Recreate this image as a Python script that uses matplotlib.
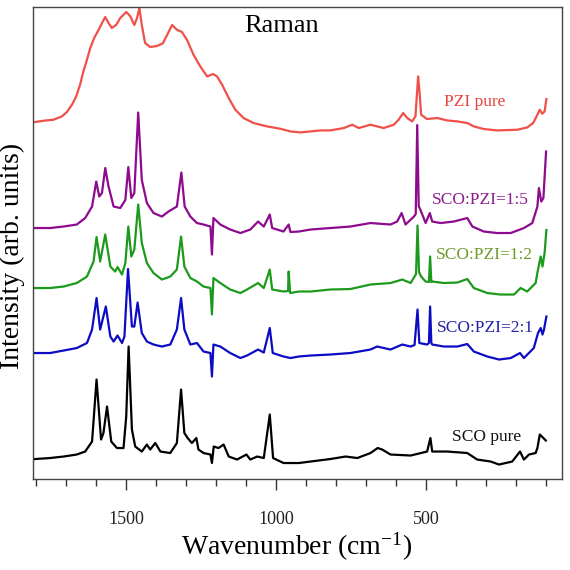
import numpy as np
import matplotlib
matplotlib.use('Agg')
import matplotlib.pyplot as plt
from matplotlib.ticker import MultipleLocator

plt.rcParams['font.family'] = ['Liberation Serif', 'DejaVu Serif']
plt.rcParams['mathtext.fontset'] = 'custom'
plt.rcParams['mathtext.rm'] = 'Liberation Serif'
plt.rcParams['mathtext.it'] = 'Liberation Serif:italic'

# spectra: [wavenumber (cm-1), intensity above own baseline]
pzi_pure = np.array([
    [1804, 0], [1776, 1.3], [1743, 2.3], [1715, 5.6], [1698, 10], [1681, 17.3], [1667, 25.6],
    [1654, 37.3], [1643, 50.6], [1631, 62.3], [1620, 74], [1607, 84], [1592, 92.3], [1578, 100.6],
    [1570, 105], [1559, 99], [1548, 94], [1533, 97.3], [1520, 104], [1500, 110], [1487, 106],
    [1473, 97], [1464, 104], [1456, 114], [1448, 97], [1437, 79], [1420, 75], [1398, 76], [1378, 78.6],
    [1362, 88], [1347, 97], [1331, 92.3], [1314, 90], [1297, 82], [1275, 67], [1253, 55.6],
    [1230, 45.6], [1210, 48], [1197, 45.6], [1180, 37.3], [1158, 24], [1136, 12.3], [1108, 3.9],
    [1075, -1], [1030, -4.4], [986, -6.7], [952, -9.4], [919, -10.4], [885, -9.4], [852, -8.4],
    [819, -8.4], [774, -6], [746, -2.7], [724, -6], [685, -2.7], [641, -6], [607, -2.7], [591, 2.3],
    [576, 9], [562, 4], [546, 0.6], [535, 5.6], [529, 32], [526, 45.6], [521, 29], [516, 7.3],
    [496, 3], [462, 4], [429, 1.6], [395, 0.6], [362, -1], [340, -4.4], [307, -7], [262, -8.4],
    [195, -7.7], [162, -5.4], [142, -1], [128, 7.3], [120, 12.3], [112, 8.3], [104, 10.6], [98, 23]])

sco_pzi_15 = np.array([
    [1804, 0], [1754, 0], [1709, 1.5], [1665, 3.5], [1637, 10], [1614, 21.5], [1600, 46.5], [1590, 31.5],
    [1581, 35], [1570, 60], [1559, 41.5], [1542, 21.5], [1520, 20], [1503, 28], [1493, 61], [1483, 30],
    [1473, 35], [1460, 115.5], [1448, 48], [1431, 25], [1409, 15], [1381, 11.5], [1359, 16.5],
    [1331, 21.5], [1316, 55.5], [1305, 21.5], [1286, 11.5], [1264, 5], [1242, 3.5], [1219, 1.5],
    [1214, -26.5], [1209, 10], [1186, 3.5], [1153, -1.5], [1119, -5], [1086, -1.5], [1060, 6.5],
    [1041, 1.5], [1021, 13.5], [1013, 0], [975, -3.5], [958, 3.5], [952, -4], [924, -3.5], [885, -1.5],
    [819, 0], [752, 1.5], [685, 5], [618, 3.5], [596, 6.5], [581, 15], [568, 3.5], [540, 11.5],
    [534, 14], [529, 103], [524, 22], [518, 18], [501, 5], [487, 15], [479, 6.5], [451, 5], [407, 6.5],
    [362, 10], [345, 1.5], [307, -3.5], [262, -5], [217, -5], [173, 0], [145, 5], [128, 21.5],
    [123, 40], [115, 26.5], [108, 30], [99, 76.5]])

sco_pzi_12 = np.array([
    [1804, 0], [1754, 0], [1709, 1.5], [1665, 5], [1631, 11.5], [1609, 26.5], [1599, 51], [1587, 26.5],
    [1570, 53.5], [1553, 21.5], [1537, 16.5], [1529, 21], [1514, 13.5], [1503, 25], [1493, 61.5],
    [1483, 31.5], [1473, 38.5], [1460, 83.5], [1448, 45], [1431, 25], [1409, 15], [1381, 8.5],
    [1353, 11.5], [1331, 18.5], [1317, 51.5], [1306, 21.5], [1286, 10], [1264, 6.5], [1242, 1.5],
    [1219, 0], [1214, -26.5], [1209, 10], [1186, 5], [1153, -1.5], [1119, -5], [1097, -1.5], [1060, 5],
    [1041, 0], [1021, 18.5], [1013, -1.5], [975, -3.5], [960, -3], [958, 16.5], [953, -5], [924, -3.5],
    [885, -3.5], [819, -1.5], [752, -1], [685, 3.5], [618, 5], [579, 8.5], [551, 5], [538, 11.5],
    [533, 14], [528, 62.5], [523, 16], [516, 11.5], [501, 6.5], [490, 6], [486, 31.5], [482, 6],
    [479, 6.5], [440, 5], [395, 5.5], [362, 9], [340, 0], [295, -5], [251, -6.5], [206, -6.5],
    [184, 0], [162, -3.5], [134, 5], [126, 18.5], [117, 31.5], [111, 21.5], [104, 35], [98, 58]])

sco_pzi_21 = np.array([
    [1804, 0], [1754, 0], [1709, 2.5], [1665, 5], [1631, 10], [1614, 23.5], [1599, 55], [1587, 23.5],
    [1568, 46.5], [1553, 16.5], [1542, 11.5], [1529, 17.5], [1514, 10], [1506, 16.5], [1494, 84],
    [1481, 26.5], [1473, 26.5], [1462, 50.5], [1448, 20], [1431, 11.5], [1409, 8.5], [1381, 6.5],
    [1353, 8.5], [1331, 23.5], [1317, 55], [1306, 23.5], [1286, 8.5], [1264, 10], [1242, 1.5],
    [1219, 0], [1214, -23.5], [1209, 8.5], [1186, 6.5], [1153, 0], [1119, -5], [1097, -2.5],
    [1060, 3.5], [1041, 0.5], [1021, 25], [1011, 0], [975, -3.5], [952, -5], [924, -3.5], [885, -2.5],
    [819, -1.5], [752, 0], [685, 3.5], [663, 6.5], [618, 3.5], [579, 8.5], [551, 6.5], [538, 8],
    [528, 43.5], [522, 10], [496, 8.5], [490, 10], [486, 46.5], [482, 10], [479, 8.5], [440, 6.5],
    [395, 6.5], [362, 9], [340, 1.5], [295, -3.5], [256, -6.5], [217, -5], [186, 0], [173, -5],
    [140, 5], [126, 20], [117, 25], [111, 18.5], [106, 23.5], [98, 36.5]])

sco_pure = np.array([
    [1804, 0], [1754, 1], [1709, 2.5], [1665, 4.5], [1637, 7.5], [1614, 17.5], [1599, 79.5], [1584, 19.5],
    [1576, 26], [1564, 52.5], [1550, 17.5], [1531, 11], [1509, 11], [1500, 42.5], [1492, 112.5],
    [1481, 29.5], [1470, 12.5], [1448, 7.5], [1431, 14.5], [1420, 9.5], [1403, 16], [1386, 7.5],
    [1353, 6], [1331, 16], [1317, 69.5], [1306, 26], [1295, 21], [1281, 16], [1266, 21], [1259, 9.5],
    [1242, 6], [1219, 4.5], [1214, -4], [1208, 12.5], [1192, 11], [1175, 14.5], [1158, 2.5],
    [1130, -0.5], [1099, 4.5], [1086, -0.5], [1063, 2.5], [1041, 1], [1021, 44.5], [1010, 1],
    [975, -4], [924, -4], [885, -2.5], [819, 0], [768, 2.5], [729, 1], [685, 6], [661, 11], [646, 9.5],
    [618, 4.5], [551, 3.5], [496, 7.5], [485, 21], [479, 7.5], [429, 7.5], [384, 6.5], [362, 6],
    [329, -0.5], [284, -2.5], [256, -5.5], [212, -2.5], [186, 7.5], [173, -0.5], [156, 4.5], [134, 6],
    [128, 11], [120, 24.5], [108, 21], [100, 18.5]])

spectra = [pzi_pure, sco_pzi_15, sco_pzi_12, sco_pzi_21, sco_pure]
labels = ['PZI pure', 'SCO:PZI=1:5', 'SCO:PZI=1:2', 'SCO:PZI=2:1', 'SCO pure']
offsets = [357, 251, 191, 126, 20]

line_colors = ['#f0504a', '#8e0a8e', '#1c9a1c', '#0c0cc4', '#000000']
text_colors = ['#e8433c', '#8e1a8e', '#6f9a2a', '#2222a8', '#111111']
label_x = [440, 479, 466, 462, 412]
label_y = [377, 279, 224.5, 150.7, 42.3]

fig = plt.figure(figsize=(5.7, 5.7), dpi=100)
ax = fig.add_axes([0.0574, 0.1596, 0.928, 0.8286])

for spec, off, c in zip(spectra, offsets, line_colors):
    ax.plot(spec[:, 0], spec[:, 1] + off, color=c, linewidth=1.6)

for lab, lx, ly, tc in zip(labels, label_x, label_y, text_colors):
    ax.text(lx, ly, lab, color=tc, fontsize=12.5, ha='left', va='center')

ax.text(0.471, 0.959, 'Raman', transform=ax.transAxes, fontsize=19, ha='center', va='center')

ax.set_xlim(1812, 47)
ax.set_ylim(0, 472.3)
ax.xaxis.set_major_locator(MultipleLocator(500))
ax.xaxis.set_minor_locator(MultipleLocator(100))
ax.tick_params(axis='x', which='major', direction='out', length=8, width=1, labelsize=13,
               pad=15, colors='#333333', labelcolor='#222222')
ax.tick_params(axis='x', which='minor', direction='out', length=5, width=1, colors='#333333')
ax.set_yticks([])
for s in ax.spines.values():
    s.set_color('#444444')
    s.set_linewidth(1.0)

fig.text(0.521, 0.040, 'Wavenumber (cm$^{-1}$)', fontsize=20, ha='center', va='center')
fig.text(0.021, 0.551, 'Intensity (arb. units)', fontsize=20, rotation=90, ha='center', va='center')

fig.savefig('out.png', dpi=100)
